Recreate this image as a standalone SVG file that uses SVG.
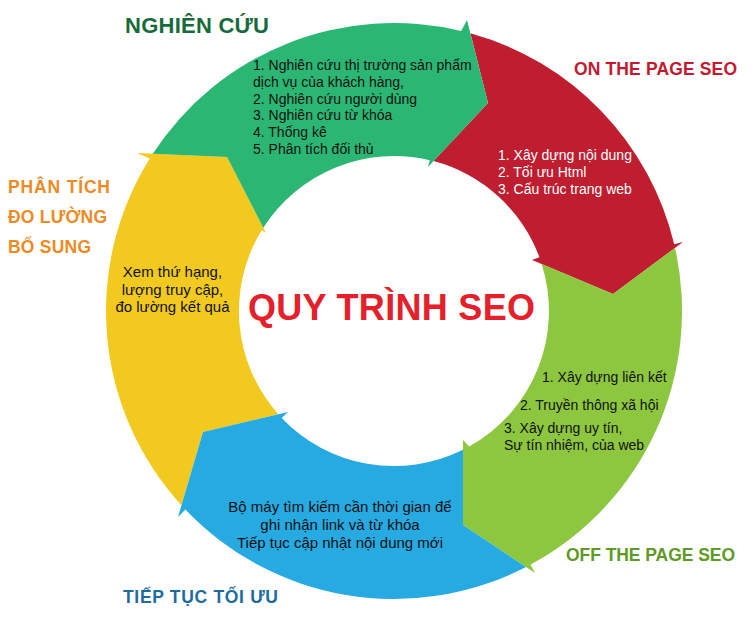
<svg xmlns="http://www.w3.org/2000/svg" width="750" height="624" viewBox="0 0 750 624">
<style>
.body{font-family:"Liberation Sans",Arial,sans-serif;font-size:14px;fill:#111}
.big{font-size:15px}
.white{fill:#ffffff}
.hdr{font-family:"Liberation Sans",Arial,sans-serif;font-weight:bold;font-size:17.5px}
.mid{text-anchor:middle}
.c-green{fill:#2bb673}
.c-red{fill:#be1e2f}
.c-lime{fill:#8dc63f}
.c-blue{fill:#27a9e1}
.c-yellow{fill:#f2c91f}
</style>
<rect width="750" height="624" fill="#ffffff"/>

<g id="connectors">
  <!-- the cycle arrows: each node shape below carries its own arrowhead (clockwise flow) -->
</g>

<g id="node-phan-tich">
  <path class="c-yellow" d="M203,432 L181.4,505.3 A288,288 0 0 1 149.8,158.4 L137,153 L227,157 L266,233 L261.8,230 A155,155 0 0 0 278.4,414.3 Z"/>
  <text class="body big mid" x="172.5" y="277">Xem thứ hạng,</text>
  <text class="body big mid" x="172.5" y="294.5">lượng truy cập,</text>
  <text class="body big mid" x="172.5" y="312">đo lường kết quả</text>
  <text class="hdr" fill="#ec8b23" x="8" y="193" textLength="102">PHÂN TÍCH</text>
  <text class="hdr" fill="#ec8b23" x="8" y="223" textLength="99">ĐO LƯỜNG</text>
  <text class="hdr" fill="#ec8b23" x="8" y="253" textLength="83">BỔ SUNG</text>
</g>

<g id="node-on-page">
  <path class="c-red" d="M488,103 L470.4,33.3 A288,288 0 0 1 674.2,244.3 L683,242 L613,294 L532,260 L539.4,257.2 A155,155 0 0 0 433.5,161.1 Z"/>
  <text class="body white" x="498" y="160">1. Xây dựng nội dung</text>
  <text class="body white" x="498" y="177">2. Tối ưu Html</text>
  <text class="body white" x="498" y="193.5">3. Cấu trúc trang web</text>
  <text class="hdr" fill="#c4182f" x="574" y="75" textLength="163">ON THE PAGE SEO</text>
</g>

<g id="node-off-page">
  <path class="c-lime" d="M613,294 L675,247.9 A288,288 0 0 1 530.5,564.6 L535,573 L463,525 L463,440 L469.1,446.6 A155,155 0 0 0 541.7,264.1 Z"/>
  <text class="body" x="542" y="382">1. Xây dựng liên kết</text>
  <text class="body" x="520" y="410">2. Truyền thông xã hội</text>
  <text class="body" x="504" y="433">3. Xây dựng uy tín,</text>
  <text class="body" x="504" y="450">Sự tín nhiệm, của web</text>
  <text class="hdr" fill="#5e9a25" x="566" y="561" textLength="169">OFF THE PAGE SEO</text>
</g>

<g id="node-tiep-tuc">
  <path class="c-blue" d="M463,525 L526,567 A288,288 0 0 1 185.4,509.6 L178,517 L203,432 L288,412 L281.7,417.9 A155,155 0 0 0 463,449.8 Z"/>
  <text class="body big mid" x="340" y="511.5">Bộ máy tìm kiếm cần thời gian để</text>
  <text class="body big mid" x="340" y="530">ghi nhận link và từ khóa</text>
  <text class="body big mid" x="340" y="548">Tiếp tục cập nhật nội dung mới</text>
  <text class="hdr" fill="#1e6c9e" x="123" y="603" textLength="155">TIẾP TỤC TỐI ƯU</text>
</g>

<g id="node-nghien-cuu">
  <path class="c-green" d="M227,157 L152.8,153.7 A288,288 0 0 1 461.2,30.9 L467,20 L488,103 L428,167 L429.7,160.2 A155,155 0 0 0 263.3,227.7 Z"/>
  <text class="body" x="253" y="70">1. Nghiên cứu thị trường sản phẩm</text>
  <text class="body" x="253" y="87">dịch vụ của khách hàng,</text>
  <text class="body" x="253" y="103.5">2. Nghiên cứu người dùng</text>
  <text class="body" x="253" y="120">3. Nghiên cứu từ khóa</text>
  <text class="body" x="253" y="137">4. Thống kê</text>
  <text class="body" x="253" y="153.5">5. Phân tích đối thủ</text>
  <text class="hdr" fill="#176b3a" style="font-size:22px" x="125" y="33" textLength="144">NGHIÊN CỨU</text>
</g>

<g id="title">
  <text x="248" y="320" textLength="287" style="font-family:'Liberation Sans',Arial,sans-serif;font-weight:bold;font-size:36px;fill:#e4202a">QUY TRÌNH SEO</text>
</g>
</svg>
